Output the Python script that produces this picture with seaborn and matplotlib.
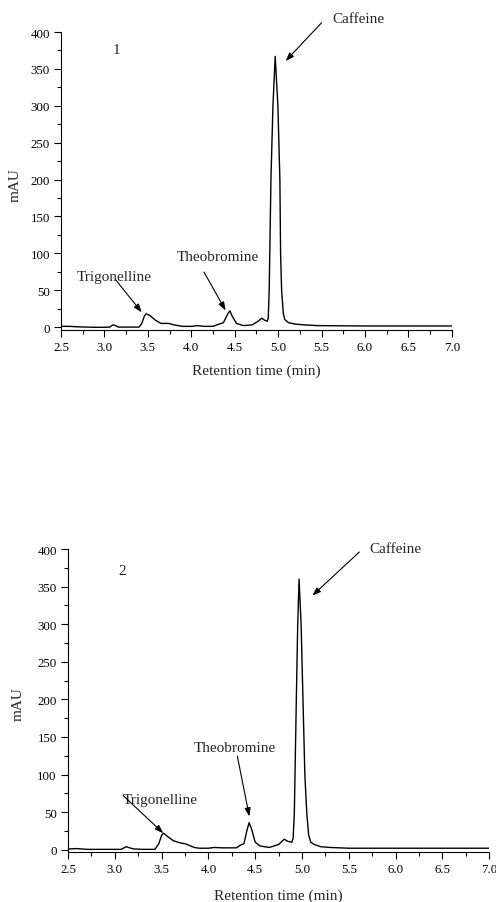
import numpy as np
import pandas as pd
import matplotlib
matplotlib.use("Agg")
import matplotlib.pyplot as plt
from matplotlib.ticker import MultipleLocator
import seaborn as sns

# ---- data ----
t1 = [2.5, 2.6, 2.7, 2.8, 2.9, 3.0, 3.06, 3.1, 3.13, 3.16, 3.2, 3.3, 3.4, 3.43, 3.46, 3.48,
      3.52, 3.58, 3.65, 3.7, 3.74, 3.8, 3.9, 4.0, 4.07, 4.15, 4.25, 4.32, 4.37, 4.42, 4.445,
      4.47, 4.52, 4.6, 4.7, 4.77, 4.81, 4.85, 4.875, 4.886, 4.897, 4.917, 4.94, 4.966, 4.997,
      5.02, 5.028, 5.04, 5.06, 5.078, 5.12, 5.2, 5.3, 5.45, 6.0, 7.0]
y1 = [1, 1, 0.3, 0, -0.3, -0.3, 0, 3, 2, 0, 0, 0, 0, 5, 15, 18,
      16, 10, 5, 5, 5, 3, 1, 1, 2, 1, 1, 4, 6, 18, 22,
      15, 5, 2, 3, 8, 12, 9, 8, 12, 50, 200, 300, 367, 300,
      200, 100, 50, 18, 10, 6, 4, 3, 2, 1.5, 1.5]

t2 = [2.5, 2.6, 2.7, 2.8, 3.0, 3.07, 3.12, 3.16, 3.2, 3.3, 3.43, 3.47, 3.5, 3.52, 3.56,
      3.625, 3.7, 3.75, 3.85, 3.9, 4.0, 4.06, 4.15, 4.3, 4.34, 4.38, 4.41, 4.435, 4.46,
      4.5, 4.55, 4.65, 4.75, 4.81, 4.85, 4.89, 4.905, 4.918, 4.939, 4.954, 4.968, 4.99,
      5.01, 5.03, 5.05, 5.07, 5.093, 5.13, 5.2, 5.3, 5.5, 6.0, 7.0]
y2 = [1, 1.5, 0.5, 0.5, 0.5, 0.5, 4, 2.5, 1, 0.5, 0.5, 8, 19, 22, 18,
      12, 9, 8, 3, 2, 2, 3, 2.5, 2.5, 6, 8, 25, 36, 28,
      10, 5, 3, 7, 14, 11, 10, 15, 50, 200, 300, 360, 300,
      200, 100, 50, 20, 10, 7, 4, 3, 2, 2, 2]

panel_labels = ["1", "2"]
compounds = ["Trigonelline", "Theobromine", "Caffeine"]
x_ticks = [2.5, 3.0, 3.5, 4.0, 4.5, 5.0, 5.5, 6.0, 6.5, 7.0]
y_ticks = [0, 50, 100, 150, 200, 250, 300, 350, 400]

# annotation placements: (text_x, text_y, arrow_start_x, arrow_start_y, arrow_end_x, arrow_end_y)
ann1 = {
    "Trigonelline": (3.113, 68.6, 3.13, 64, 3.43, 20),
    "Theobromine": (4.31, 96, 4.146, 74.6, 4.395, 22.5),
    "Caffeine": (5.93, 418, 5.50, 412.6, 5.086, 360.7),
}
ann2 = {
    "Trigonelline": (3.483, 66.4, 3.09, 72, 3.518, 22),
    "Theobromine": (4.287, 135.5, 4.309, 124.5, 4.437, 44.3),
    "Caffeine": (5.994, 401, 5.612, 396, 5.11, 338),
}
label_pos = [(3.133, 376), (3.074, 371)]

sns.set_style("ticks")
plt.rcParams["font.family"] = ["Liberation Serif", "DejaVu Serif"]
plt.rcParams["xtick.direction"] = "out"
plt.rcParams["ytick.direction"] = "out"

fig = plt.figure(figsize=(4.96, 9.03), dpi=100)
ax1 = fig.add_axes([0.123, 0.6334, 0.788, 0.330])
ax2 = fig.add_axes([0.137, 0.0554, 0.8495, 0.3355])

datasets = [(ax1, t1, y1, ann1, (-4, 400), -0.111, -0.100),
            (ax2, t2, y2, ann2, (-3, 400), -0.119, -0.102)]
for i, (ax, t, y, ann, ylim, xl_y, yl_x) in enumerate(datasets):
    df = pd.DataFrame({"time": t, "mAU": y})
    sns.lineplot(data=df, x="time", y="mAU", ax=ax, color="black", linewidth=1.0,
                 estimator=None, sort=False)
    ax.set_xlim(2.5, 7.0)
    ax.set_ylim(*ylim)
    ax.set_xticks(x_ticks)
    ax.set_yticks(y_ticks)
    ax.set_xticklabels([f"{v:.1f}" for v in x_ticks])
    ax.xaxis.set_minor_locator(MultipleLocator(0.25))
    ax.yaxis.set_minor_locator(MultipleLocator(25))
    ax.tick_params(which="major", length=5, width=0.8, labelsize=9.3, color="black",
                   labelcolor="black", pad=3)
    ax.tick_params(which="minor", length=3, width=0.8, color="black")
    for s in ["top", "right"]:
        ax.spines[s].set_visible(False)
    for s in ["left", "bottom"]:
        ax.spines[s].set_linewidth(0.8)
        ax.spines[s].set_color("black")
    ax.set_xlabel("Retention time (min)", fontsize=11)
    ax.set_ylabel("mAU", fontsize=11)
    ax.yaxis.set_label_coords(yl_x, 0.49)
    ax.xaxis.set_label_coords(0.5, xl_y)
    ax.text(label_pos[i][0], label_pos[i][1], panel_labels[i], fontsize=11,
            ha="center", va="center")
    for name in compounds:
        tx, ty, sx, sy, ex, ey = ann[name]
        ax.text(tx, ty, name, fontsize=11, ha="center", va="center")
        ax.annotate("", xy=(ex, ey), xytext=(sx, sy),
                    arrowprops=dict(arrowstyle="-|>,head_length=0.5,head_width=0.18",
                                    color="black", lw=0.8, shrinkA=0, shrinkB=0))

fig.savefig("out.png", dpi=100)
